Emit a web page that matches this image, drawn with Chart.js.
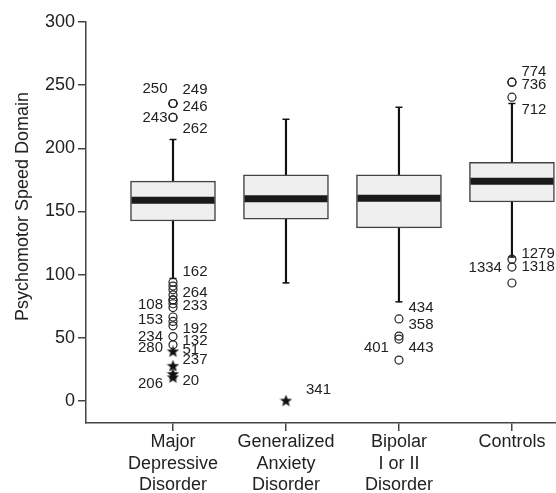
<!DOCTYPE html>
<html lang="en">
<head>
<meta charset="UTF-8">
<title>Psychomotor Speed Domain</title>
<style>
  html, body { margin: 0; padding: 0; background: #fff; }
  #wrap { width: 556px; height: 493px; }
</style>
<script src="https://cdn.jsdelivr.net/npm/chart.js"></script>
</head>
<body>
<div id="wrap"><canvas id="boxChart" width="556" height="493"></canvas></div>
<script>
// groups along the x axis (positions 1..4)
const groups = [
    ['Major', 'Depressive', 'Disorder'],
    ['Generalized', 'Anxiety', 'Disorder'],
    ['Bipolar', 'I or II', 'Disorder'],
    ['Controls']
];
const yTicks = [0, 50, 100, 150, 200, 250, 300];
const yTitle = 'Psychomotor Speed Domain';

// box statistics per group
const whiskerLow  = [97, 93.5, 78.5, 114];
const q1          = [142.5, 144, 137, 157.5];
const medians     = [159, 160, 160.5, 174];
const q3          = [174, 179, 179, 189];
const whiskerHigh = [207, 223, 232.5, 235.5];

// outliers as [group, value]
const circleOutliers = [
    [1, 235.5], [1, 235.5], [1, 235.5], [1, 224.5], [1, 224.5],
    [1, 94], [1, 91], [1, 88], [1, 84], [1, 80], [1, 80], [1, 77], [1, 74],
    [1, 66.5], [1, 63], [1, 59.5], [1, 51], [1, 44.5],
    [3, 65], [3, 51.4], [3, 49], [3, 32.4],
    [4, 252.4], [4, 252.4], [4, 240.5], [4, 112.3], [4, 106], [4, 93.4]
];
const starOutliers = [
    [1, 39], [1, 27.5], [1, 21], [1, 18.5],
    [2, 0]
];

// case numbers: [group, value, text, side]
const caseLabels = [
    [1, 246.7, '250', 'near'], [1, 246, '249', 'r'], [1, 232.8, '246', 'r'],
    [1, 224.4, '243', 'near'], [1, 215.7, '262', 'r'],
    [1, 102.4, '162', 'r'], [1, 85.3, '264', 'r'], [1, 75.5, '233', 'r'],
    [1, 76.1, '108', 'l'], [1, 64.3, '153', 'l'], [1, 57, '192', 'r'],
    [1, 50.4, '234', 'l'], [1, 47.4, '132', 'r'], [1, 42, '280', 'l'],
    [1, 40.7, '51', 'r'], [1, 32.8, '237', 'r'], [1, 13.9, '206', 'l'],
    [1, 15.7, '20', 'r'],
    [2, 8.7, '341', 'far'],
    [3, 73.6, '434', 'r'], [3, 60.1, '358', 'r'], [3, 41.9, '401', 'l'], [3, 41.9, '443', 'r'],
    [4, 260.3, '774', 'r'], [4, 250, '736', 'r'], [4, 230.2, '712', 'r'],
    [4, 116.3, '1279', 'r'], [4, 106, '1318', 'r'], [4, 105.2, '1334', 'l']
];

const FONT = '"Liberation Sans", Arial, sans-serif';
const INK = '#222';

// filled five point star used for extreme values
function makeStar(size) {
    const c = document.createElement('canvas');
    c.width = size; c.height = size;
    const g = c.getContext('2d');
    const r = size / 2, ri = r * 0.42;
    g.beginPath();
    for (let i = 0; i < 10; i++) {
        const a = -Math.PI / 2 + i * Math.PI / 5;
        const rr = i % 2 ? ri : r;
        g.lineTo(r + rr * Math.cos(a), r + rr * Math.sin(a));
    }
    g.closePath();
    g.fillStyle = '#111';
    g.fill();
    return c;
}
const starImg = makeStar(13);

const labelOffset = { l: -10, near: -5.5, r: 9.5, far: 20 };

// case numbers next to the outliers, plus the y axis title
const caseLabelPlugin = {
    id: 'caseLabels',
    afterDatasetsDraw(chart) {
        const { ctx, chartArea, scales: { x, y } } = chart;
        ctx.save();
        ctx.font = '15px ' + FONT;
        ctx.fillStyle = INK;
        ctx.textBaseline = 'middle';
        caseLabels.forEach(([g, v, text, side]) => {
            ctx.textAlign = (side === 'l' || side === 'near') ? 'right' : 'left';
            ctx.fillText(text, x.getPixelForValue(g) + labelOffset[side], y.getPixelForValue(v));
        });

        // axis title sits a little above the middle of the axis
        ctx.font = '18px ' + FONT;
        ctx.textAlign = 'center';
        ctx.translate(23, (chartArea.top + chartArea.bottom) / 2 - 16);
        ctx.rotate(-Math.PI / 2);
        ctx.fillText(yTitle, 0, 0);
        ctx.restore();
    }
};

const toPoints = arr => arr.map(([g, v]) => ({ x: g, y: v }));

const datasets = [
    {
        type: 'scatter',
        data: toPoints(circleOutliers),
        pointStyle: 'circle',
        pointRadius: 4,
        pointBorderWidth: 1.2,
        pointBorderColor: INK,
        pointBackgroundColor: 'rgba(255,255,255,0)',
        clip: false,
        order: 0
    },
    {
        type: 'scatter',
        data: toPoints(starOutliers),
        pointStyle: starImg,
        clip: false,
        order: 0
    },
    {
        // medians
        type: 'scatter',
        data: medians.map((m, i) => ({ x: i + 1, y: m })),
        pointStyle: 'line',
        pointRadius: 41.5,
        pointBorderWidth: 7,
        pointBorderColor: '#1a1a1a',
        clip: false,
        order: 1
    },
    {
        // whisker caps
        type: 'scatter',
        data: whiskerLow.map((v, i) => ({ x: i + 1, y: v }))
            .concat(whiskerHigh.map((v, i) => ({ x: i + 1, y: v }))),
        pointStyle: 'line',
        pointRadius: 3.5,
        pointBorderWidth: 1.5,
        pointBorderColor: '#111',
        clip: false,
        order: 1
    },
    {
        // boxes q1..q3
        type: 'bar',
        data: q1.map((v, i) => ({ x: i + 1, y: [v, q3[i]] })),
        barThickness: 85,
        grouped: false,
        backgroundColor: '#efefef',
        borderColor: '#444',
        borderWidth: 1.5,
        borderSkipped: false,
        clip: false,
        order: 2
    },
    {
        // whisker stems
        type: 'bar',
        data: whiskerLow.map((v, i) => ({ x: i + 1, y: [v, whiskerHigh[i]] })),
        barThickness: 1.5,
        grouped: false,
        backgroundColor: '#111',
        borderWidth: 0,
        order: 3
    }
];

new Chart(document.getElementById('boxChart').getContext('2d'), {
    type: 'bar',
    data: { datasets: datasets },
    options: {
        responsive: false,
        animation: false,
        events: [],
        layout: {
            autoPadding: false,
            padding: { top: 22, right: 0, bottom: 0, left: 0 }
        },
        plugins: {
            legend: { display: false },
            tooltip: { enabled: false }
        },
        scales: {
            x: {
                type: 'linear',
                min: 0.23,
                max: 4.39,
                offset: false,
                grid: { offset: false, drawOnChartArea: false, color: '#444', lineWidth: 1.5, tickLength: 8 },
                border: { color: '#444', width: 1.5 },
                afterBuildTicks: s => { s.ticks = groups.map((_, i) => ({ value: i + 1 })); },
                afterFit: s => { s.height = 70; },
                ticks: {
                    autoSkip: false,
                    maxRotation: 0,
                    padding: 1,
                    color: INK,
                    font: { family: FONT, size: 18, lineHeight: 1.17 },
                    callback: v => groups[v - 1]
                }
            },
            y: {
                min: -17.4,
                max: 300,
                grid: { drawOnChartArea: false, color: '#444', lineWidth: 1.5, tickLength: 8 },
                border: { color: '#444', width: 1.5 },
                afterBuildTicks: s => { s.ticks = yTicks.map(v => ({ value: v })); },
                afterFit: s => { s.width = 86; },
                ticks: {
                    padding: 3,
                    color: INK,
                    font: { family: FONT, size: 18 }
                }
            }
        }
    },
    plugins: [caseLabelPlugin]
});
</script>
</body>
</html>
